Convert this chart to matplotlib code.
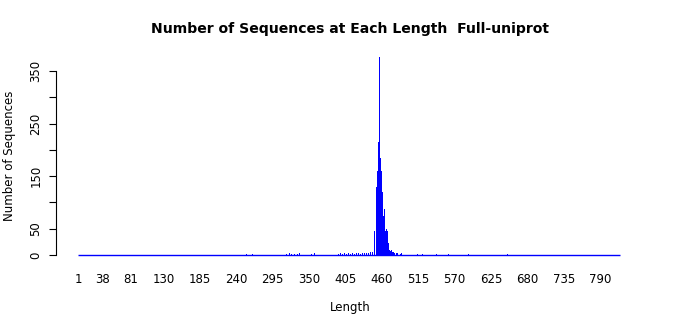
import numpy as np
import matplotlib.pyplot as plt

# Sequence length range (one bar per length, most are zero)
MIN_LEN = 1
MAX_LEN = 820

# Non-zero counts: length -> count
peak_lengths = [440, 441, 442, 443, 444, 445, 446, 447, 448, 449, 450,
                451, 452, 453, 454, 455, 456, 457, 458, 459, 460, 461,
                462, 463, 464, 465, 466, 467, 468, 469, 470, 471, 472,
                473, 474, 475, 476, 477, 478, 479, 480, 482, 484, 486,
                488, 490, 492, 495, 498, 500, 503, 506]
peak_counts = [3, 2, 4, 5, 3, 8, 6, 20, 35, 45, 40,
               172, 130, 215, 160, 215, 140, 376, 185, 130, 160, 120,
               90, 75, 88, 55, 45, 50, 30, 45, 22, 15, 10,
               8, 6, 9, 5, 4, 6, 3, 5, 4, 3, 4,
               2, 3, 2, 2, 3, 1, 2, 1]

tail_lengths = [256, 265, 276, 294, 305, 308, 312, 316, 321, 324, 328,
                333, 336, 341, 344, 347, 350, 354, 358, 362, 367, 370,
                374, 377, 382, 385, 388, 391, 395, 398, 401, 404, 407,
                410, 413, 416, 419, 422, 425, 428, 431, 434, 437,
                510, 514, 518, 522, 543, 561, 591, 650, 820]
tail_counts = [2, 2, 2, 2, 2, 3, 2, 2, 3, 2, 2,
               2, 3, 2, 2, 3, 2, 2, 3, 2, 2, 3,
               2, 2, 3, 2, 2, 3, 2, 3, 2, 3, 2,
               3, 2, 3, 2, 3, 3, 2, 4, 3, 4,
               3, 2, 3, 2, 2, 2, 2, 2, 2]

x_tick_values = [1, 38, 81, 130, 185, 240, 295, 350, 405, 460, 515,
                 570, 625, 680, 735, 790]
y_tick_values = [0, 50, 100, 150, 200, 250, 300, 350]
y_tick_labels = ["0", "50", "", "150", "", "250", "", "350"]

lengths = np.arange(MIN_LEN, MAX_LEN + 1)
counts = np.zeros(len(lengths))
for L, c in zip(peak_lengths + tail_lengths, peak_counts + tail_counts):
    counts[L - MIN_LEN] = c

fig = plt.figure(figsize=(7, 3.15), dpi=100)
ax = fig.add_axes([0.0804, 0.165, 0.9167 - 0.0804, 0.8435 - 0.165])

ax.bar(lengths, counts, width=0.83, color="#0000FF", linewidth=0)
ax.hlines(0, lengths[0] - 0.4, lengths[-1] + 0.4, color="#0000FF", lw=1)

ax.set_xlim(-31.8, 852.8)
ax.set_ylim(-15.2, 391.3)

for s in ["top", "right", "bottom"]:
    ax.spines[s].set_visible(False)
ax.spines["left"].set_bounds(0, 350)
ax.spines["left"].set_linewidth(0.8)

ax.set_yticks(y_tick_values)
ax.set_yticklabels(y_tick_labels, rotation=90, va="center", fontsize=8.5)
ax.tick_params(axis="y", length=5, width=0.8, pad=5)

ax.set_xticks(x_tick_values)
ax.set_xticklabels([str(v) for v in x_tick_values], fontsize=8.5)
ax.tick_params(axis="x", length=0, pad=7)

ax.set_ylabel("Number of Sequences", fontsize=8.5, labelpad=10)
fig.text(0.5, 1 - 307 / 315, "Length", fontsize=8.5, ha="center", va="center")
fig.text(0.5, 1 - 29 / 315, "Number of Sequences at Each Length  Full-uniprot",
         fontsize=10.1, fontweight="bold", ha="center", va="center")

fig.savefig("out.png", dpi=100)
